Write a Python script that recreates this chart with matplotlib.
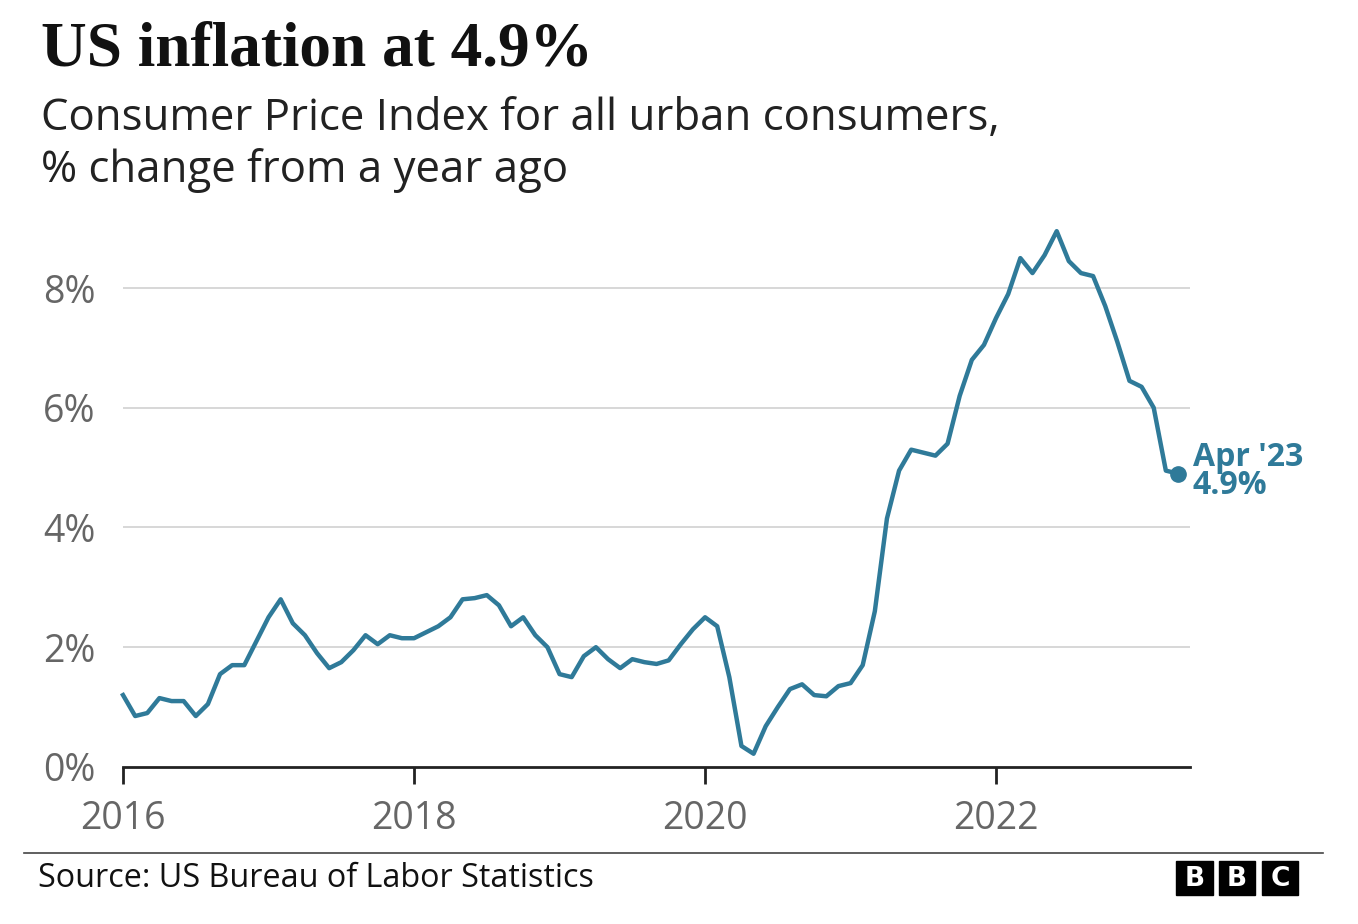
import matplotlib.pyplot as plt
import numpy as np

# monthly CPI % change, Jan 2016 .. Apr 2023
cpi_2016 = [1.2, 0.85, 0.9, 1.15, 1.1, 1.1, 0.85, 1.05, 1.55, 1.7, 1.7, 2.1]
cpi_2017 = [2.5, 2.8, 2.4, 2.2, 1.9, 1.65, 1.75, 1.95, 2.2, 2.05, 2.2, 2.15]
cpi_2018 = [2.15, 2.25, 2.35, 2.5, 2.8, 2.82, 2.87, 2.7, 2.35, 2.5, 2.2, 2.0]
cpi_2019 = [1.55, 1.5, 1.85, 2.0, 1.8, 1.65, 1.8, 1.75, 1.72, 1.78, 2.05, 2.3]
cpi_2020 = [2.5, 2.35, 1.5, 0.35, 0.22, 0.68, 1.0, 1.3, 1.38, 1.2, 1.18, 1.35]
cpi_2021 = [1.4, 1.7, 2.6, 4.15, 4.95, 5.3, 5.25, 5.2, 5.4, 6.2, 6.8, 7.05]
cpi_2022 = [7.5, 7.9, 8.5, 8.25, 8.55, 8.95, 8.45, 8.25, 8.2, 7.7, 7.1, 6.45]
cpi_2023 = [6.35, 6.0, 4.95, 4.9]
values = cpi_2016 + cpi_2017 + cpi_2018 + cpi_2019 + cpi_2020 + cpi_2021 + cpi_2022 + cpi_2023
months = 2016 + np.arange(len(values)) / 12

y_ticks = [0, 2, 4, 6, 8]
x_ticks = [2016, 2018, 2020, 2022]

LINE = "#2f7a99"
GREY = "#666666"

fig = plt.figure(figsize=(13.58, 9.24), dpi=100)
ax = fig.add_axes([0.0906, 0.170, 0.876 - 0.0906, 0.596])

for t in y_ticks[1:]:
    ax.axhline(t, color="#d4d4d4", lw=1.3, zorder=0)
ax.plot(months, values, color=LINE, lw=3.2, solid_joinstyle="round", clip_on=False)
ax.plot(months[-1], values[-1], "o", color=LINE, ms=11, clip_on=False)
ax.text(months[-1] + 0.1, values[-1] + 0.03, "Apr '23\n4.9%", color=LINE, fontsize=23,
        fontweight="bold", family="Open Sans", va="center", ha="left", linespacing=0.8)

ax.set_xlim(2016, 2023.33)
ax.set_ylim(0, 9.2)
ax.set_yticks(y_ticks)
ax.set_yticklabels([f"{t}%" for t in y_ticks])
ax.set_xticks(x_ticks)
ax.set_xticklabels([str(t) for t in x_ticks])
for s in ["top", "right", "left"]:
    ax.spines[s].set_visible(False)
ax.spines["bottom"].set_linewidth(2)
ax.spines["bottom"].set_color("#222222")
ax.tick_params(axis="y", length=0, pad=20, labelsize=27, labelcolor=GREY)
ax.tick_params(axis="x", length=12, width=2, color="#222222", pad=12, labelsize=27, labelcolor=GREY)
for lab in ax.get_xticklabels() + ax.get_yticklabels():
    lab.set_family("Open Sans")

fig.text(0.030, 0.945, "US inflation at 4.9%", fontsize=45.5, fontweight="bold",
         family="Liberation Serif", va="center", color="#111111")
fig.text(0.030, 0.843, "Consumer Price Index for all urban consumers,\n% change from a year ago",
         fontsize=31.5, family="Open Sans", va="center", color="#222222", linespacing=1.2)

fig.add_artist(plt.Line2D([0.018, 0.974], [0.077, 0.077], color="#444444", lw=1.2))
fig.text(0.028, 0.049, "Source: US Bureau of Labor Statistics", fontsize=23.3,
         family="Open Sans", va="center", color="#111111")
for i, ch in enumerate("BBC"):
    x0 = 0.866 + i * 0.0315
    fig.add_artist(plt.Rectangle((x0, 0.031), 0.027, 0.037, color="black"))
    fig.text(x0 + 0.0135, 0.049, ch, color="white", fontsize=19, fontweight="bold",
             ha="center", va="center", family="DejaVu Sans")

fig.savefig("out.png", dpi=100, facecolor="white")
